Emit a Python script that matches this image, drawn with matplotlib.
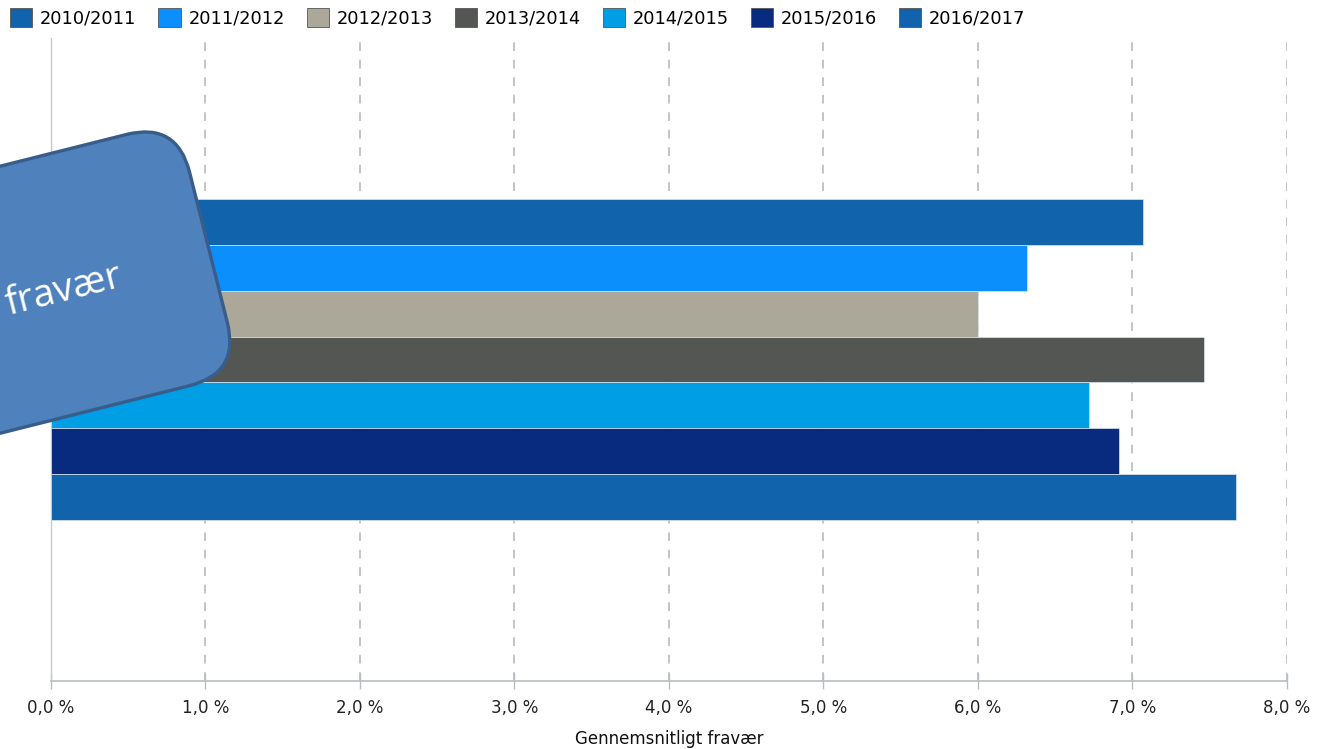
import matplotlib
matplotlib.use("Agg")
import matplotlib.pyplot as plt
from matplotlib.patches import FancyBboxPatch, Patch
from matplotlib.transforms import Affine2D

seasons = ["2010/2011", "2011/2012", "2012/2013", "2013/2014", "2014/2015", "2015/2016", "2016/2017"]
values = [7.07, 6.32, 6.00, 7.46, 6.72, 6.91, 7.67]
colors = ["#1164AC", "#0A8FFD", "#ACA899", "#545653", "#009FE5", "#082B80", "#1164AC"]
xticks = [0, 1, 2, 3, 4, 5, 6, 7, 8]
xticklabels = ["0,0 %", "1,0 %", "2,0 %", "3,0 %", "4,0 %", "5,0 %", "6,0 %", "7,0 %", "8,0 %"]
xlabel = "Gennemsnitligt fravær"
callout_text = "fravær"

fig = plt.figure(figsize=(13.17, 7.49), dpi=100)
ax = fig.add_axes([51/1317, (749-681)/749, (1287-51)/1317, (681-38)/749])

for i, (s, v, c) in enumerate(zip(seasons, values, colors)):
    ax.barh(i, v, height=1.0, color=c, edgecolor="#DCE6F0", linewidth=0.5, label=s, zorder=3)

ax.set_xlim(0, 8)
ax.set_ylim(10, -4)
ax.set_yticks([])
ax.set_xticks(xticks)
ax.set_xticklabels(xticklabels, fontsize=12, color="#222222")
ax.tick_params(axis="x", direction="inout", length=12, width=1, color="#B8BEC4", pad=7)
ax.xaxis.grid(True, linestyle=(0, (4.5, 4.5)), color="#C4C4C4", linewidth=1.4, zorder=0)
for sp in ["top", "right"]:
    ax.spines[sp].set_visible(False)
ax.spines["bottom"].set_color("#B8BEC4")
ax.spines["bottom"].set_linewidth(1.2)
ax.spines["left"].set_color("#C8C8C8")
ax.spines["left"].set_linewidth(1.0)
ax.set_xlabel(xlabel, fontsize=12, color="#111111", labelpad=9)

handles = [Patch(facecolor=c, edgecolor="#555555", linewidth=0.6) for c in colors]
fig.legend(handles, seasons, loc="upper left", bbox_to_anchor=(10/1317, 1 - 8/749),
           ncol=7, frameon=False, fontsize=12.8, handlelength=1.25, handleheight=1.25,
           handletextpad=0.45, columnspacing=1.22, borderaxespad=0, borderpad=0)

ov = fig.add_axes([0, 0, 1, 1], zorder=10)
ov.set_xlim(0, 1317)
ov.set_ylim(0, 749)
ov.axis("off")
W = 700
rect = FancyBboxPatch((240 - W, 376), W, 259, boxstyle="round,pad=0,rounding_size=52",
                      facecolor="#4F81BD", edgecolor="#385D8A", linewidth=2.4,
                      transform=Affine2D().rotate_deg_around(240, 376, 14.1) + ov.transData)
ov.add_patch(rect)
ov.text(124, 463, callout_text, rotation=14.1, rotation_mode="anchor", ha="right", va="baseline",
        fontsize=28, color="white", family=["Open Sans", "DejaVu Sans"])

fig.savefig("out.png", dpi=100)
